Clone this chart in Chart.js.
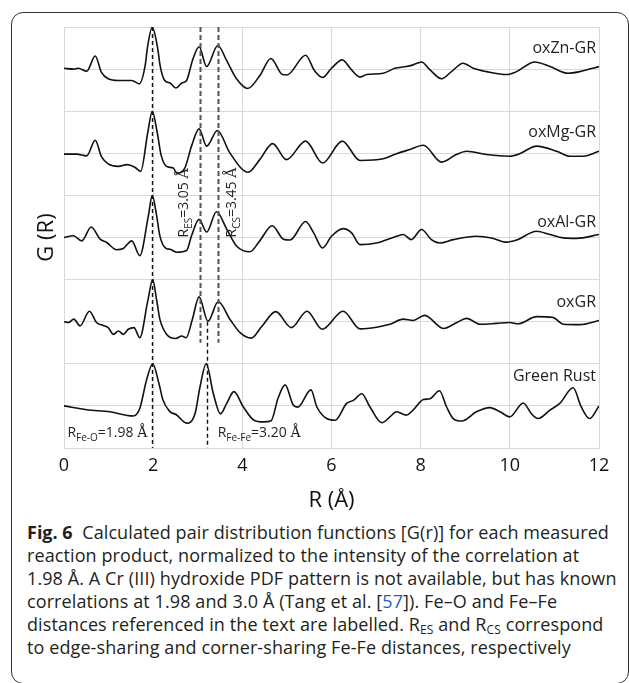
<!DOCTYPE html>
<html>
<head>
<meta charset="UTF-8">
<title>Pair distribution functions</title>
<script src="https://cdn.jsdelivr.net/npm/chart.js@4.4.4/dist/chart.umd.min.js"></script>
<style>
  html, body { margin: 0; padding: 0; background: #fff; }
  body { width: 629px; height: 683px; overflow: hidden; position: relative; font-family: "Open Sans", sans-serif; color: #231f20; }
  .frame { position: absolute; left: 11px; top: 12px; width: 618px; height: 672px; border: 1.5px solid #333; border-radius: 12px; box-sizing: border-box; }
  .plot { position: absolute; left: 0; top: 0; width: 629px; height: 520px; }
  .caption { position: absolute; left: 27px; top: 521px; font-size: 18px; line-height: 23px; white-space: nowrap; letter-spacing: 0.1px; }
  .caption b { letter-spacing: 0; }
  .caption .ref { color: #2a5cc8; }
  .caption sub { font-size: 12px; vertical-align: -3px; line-height: 0; }
</style>
</head>
<body>
<div class="frame"></div>
<div class="plot"><canvas id="pdf"></canvas></div>
<div class="caption">
  <b>Fig. 6</b>&nbsp; Calculated pair distribution functions [G(r)] for each measured<br>
  reaction product, normalized to the intensity of the correlation at<br>
  1.98 Å. A Cr (III) hydroxide PDF pattern is not available, but has known<br>
  correlations at 1.98 and 3.0 Å (Tang et al. [<span class="ref">57</span>]). Fe–O and Fe–Fe<br>
  distances referenced in the text are labelled. R<sub>ES</sub> and R<sub>CS</sub> correspond<br>
  to edge-sharing and corner-sharing Fe-Fe distances, respectively
</div>

<script>
  // —— series (R in Å, G normalized to the 1.98 Å peak) ——————————
  const names = ['oxZn-GR', 'oxMg-GR', 'oxAl-GR', 'oxGR', 'Green Rust'];

  const rZn = [0, 0.21, 0.32, 0.51, 0.70, 0.84, 0.99, 1.22, 1.52, 1.69, 1.82, 1.87, 1.98, 2.10, 2.16, 2.26, 2.38, 2.51, 2.64, 2.75, 2.88, 3.03, 3.20, 3.45, 3.65, 3.87, 4.12, 4.39, 4.64, 4.90, 5.00, 5.42, 5.62, 5.80, 6.00, 6.24, 6.45, 6.64, 6.79, 7.16, 7.42, 7.68, 7.83, 8.02, 8.21, 8.47, 8.69, 8.95, 9.18, 9.48, 9.93, 10.15, 10.56, 10.90, 11.31, 11.57, 12.0];
  const gZn = [0.02, 0, 0.02, -0.05, 0.31, -0.08, -0.23, -0.27, -0.27, -0.35, 0.08, 0.5, 1.0, 0.5, 0.06, -0.27, -0.33, -0.45, -0.33, -0.27, 0.20, 0.53, 0.06, 0.56, 0.20, -0.23, -0.46, -0.16, 0.25, -0.13, -0.14, 0.33, -0.04, -0.20, 0.02, 0.22, -0.02, -0.19, -0.13, -0.10, 0.02, 0.06, 0.10, 0.17, -0.02, -0.23, -0.06, 0.14, 0.02, -0.06, -0.13, -0.06, 0.17, 0.06, -0.10, -0.06, 0.06];

  const rMg = [0, 0.28, 0.51, 0.70, 0.84, 0.99, 1.22, 1.41, 1.59, 1.72, 1.88, 1.98, 2.09, 2.18, 2.30, 2.45, 2.53, 2.71, 2.86, 3.03, 3.20, 3.44, 3.72, 4.13, 4.39, 4.68, 4.99, 5.42, 5.80, 6.24, 6.64, 7.16, 7.46, 7.76, 8.06, 8.47, 8.80, 9.03, 9.48, 10.0, 10.22, 10.6, 11.05, 11.35, 11.65, 12.0];
  const gMg = [-0.02, -0.02, -0.06, 0.31, -0.08, -0.25, -0.31, -0.27, -0.33, -0.43, 0.5, 1.0, 0.5, -0.05, -0.31, -0.35, -0.47, -0.35, 0.17, 0.58, 0.17, 0.54, 0.01, -0.45, -0.15, 0.23, -0.15, 0.29, -0.23, 0.29, -0.17, -0.13, -0.01, 0.09, 0.19, -0.21, -0.03, 0.05, -0.03, -0.07, -0.01, 0.17, 0.05, -0.07, -0.07, 0.05];

  const rAl = [0, 0.21, 0.40, 0.61, 0.81, 0.96, 1.18, 1.33, 1.52, 1.70, 1.89, 1.98, 2.08, 2.15, 2.29, 2.38, 2.53, 2.75, 2.86, 3.03, 3.20, 3.42, 3.65, 3.87, 4.17, 4.39, 4.67, 4.92, 5.07, 5.42, 5.60, 5.80, 6.00, 6.26, 6.45, 6.64, 7.01, 7.46, 7.61, 7.79, 8.02, 8.24, 8.43, 8.73, 9.25, 9.59, 9.93, 10.15, 10.6, 10.9, 11.2, 11.5, 12.0];
  const gAl = [0, 0.04, -0.08, 0.25, -0.04, -0.12, -0.29, -0.26, -0.08, -0.43, 0.5, 1.0, 0.5, 0.04, -0.26, -0.28, -0.35, -0.31, 0.04, 0.43, 0.13, 0.61, 0.20, -0.20, -0.34, -0.08, 0.28, -0.04, -0.06, 0.38, 0.11, -0.25, 0.03, 0.21, 0.11, -0.17, -0.13, 0.03, 0.07, -0.05, 0.19, -0.05, -0.13, -0.05, 0.03, -0.01, -0.11, -0.06, 0.15, 0.07, -0.01, -0.02, 0.07];

  const rOx = [0, 0.10, 0.22, 0.36, 0.57, 0.73, 0.88, 0.99, 1.11, 1.22, 1.33, 1.44, 1.57, 1.70, 1.88, 1.99, 2.08, 2.15, 2.30, 2.51, 2.64, 2.74, 2.88, 3.03, 3.23, 3.46, 3.72, 3.95, 4.20, 4.43, 4.75, 5.10, 5.45, 5.79, 6.26, 6.64, 7.01, 7.31, 7.61, 7.83, 8.09, 8.51, 8.81, 9.03, 9.33, 9.70, 10.0, 10.19, 10.6, 10.97, 11.2, 11.57, 12.0];
  const gOx = [0, -0.02, 0.06, -0.10, 0.25, -0.02, -0.09, -0.14, -0.30, -0.22, -0.30, -0.18, -0.14, -0.38, 0.5, 1.0, 0.5, 0.06, -0.30, -0.40, -0.34, -0.38, 0.06, 0.59, 0.01, 0.48, 0.06, -0.26, -0.39, -0.12, 0.24, -0.14, 0.25, -0.18, 0.25, -0.17, -0.13, -0.06, 0.06, 0.03, 0.15, -0.16, -0.02, 0.08, -0.06, -0.04, -0.02, -0.05, 0.12, 0.10, -0.06, -0.07, 0.03];

  const rGR = [0, 0.51, 1.03, 1.55, 1.70, 1.85, 1.99, 2.13, 2.22, 2.37, 2.52, 2.75, 2.94, 3.05, 3.19, 3.35, 3.51, 3.65, 3.81, 4.02, 4.26, 4.47, 4.64, 4.81, 4.96, 5.14, 5.24, 5.54, 5.67, 5.89, 6.08, 6.34, 6.49, 6.68, 6.86, 7.13, 7.31, 7.46, 7.68, 7.83, 8.06, 8.21, 8.42, 8.58, 8.73, 8.92, 9.25, 9.55, 9.78, 10.0, 10.3, 10.48, 10.63, 10.9, 11.12, 11.42, 11.6, 11.79, 12.0];
  const gGR = [0, -0.09, -0.14, -0.24, -0.06, 0.61, 1.0, 0.53, 0.14, -0.13, -0.21, -0.41, -0.18, 0.45, 1.0, 0.29, -0.19, 0.06, 0.34, -0.02, -0.34, -0.38, -0.36, 0.21, 0.50, 0.02, -0.03, 0.38, -0.02, -0.30, -0.34, 0.06, 0.13, 0.29, -0.02, -0.40, -0.26, -0.14, -0.22, -0.10, 0.15, 0.17, 0.36, -0.02, -0.30, -0.36, -0.14, -0.04, -0.14, -0.26, 0.07, -0.18, -0.30, -0.10, 0.06, 0.43, -0.02, -0.30, 0.0];

  // vertical shift of each trace so they stack
  const traceShift = [8, 6, 4, 2, 0];

  // reference distances (Å) and the G-range each dashed line covers
  const refNames  = ['Fe-O', 'ES', 'CS', 'Fe-Fe'];
  const refR      = [1.98, 3.05, 3.45, 3.20];
  const refTop    = [9, 9, 9, 2];
  const refBottom = [-1, 1.5, 1.5, -1];

  const xTicks = [0, 2, 4, 6, 8, 10, 12];

  const rs = [rZn, rMg, rAl, rOx, rGR];
  const gs = [gZn, gMg, gAl, gOx, gGR];

  // —— text helper: runs of text with optional subscript ——————————
  const SANS = '"Open Sans", sans-serif';
  function richRuns(label, value, size) {
    return [
      { t: 'R', f: size + 'px ' + SANS, dy: 0 },
      { t: label, f: Math.round(size * 0.7) + 'px ' + SANS, dy: size * 0.28 },
      { t: '=' + value + ' ', f: size + 'px ' + SANS, dy: 0 },
      { t: 'Å', f: size + 'px "DejaVu Serif", serif', dy: 0 }
    ];
  }
  function runsWidth(ctx, runs) {
    return runs.reduce((w, r) => { ctx.font = r.f; return w + ctx.measureText(r.t).width; }, 0);
  }
  function drawRuns(ctx, runs, x, y) {
    ctx.textBaseline = 'alphabetic';
    ctx.textAlign = 'left';
    runs.forEach(r => {
      ctx.font = r.f;
      ctx.fillText(r.t, x, y + r.dy);
      x += ctx.measureText(r.t).width;
    });
  }

  const annotate = {
    id: 'annotate',
    afterDatasetsDraw(chart) {
      const { ctx, scales: { x, y } } = chart;
      ctx.save();

      // dashed reference lines
      refR.forEach((r, i) => {
        const shared = refNames[i] === 'ES' || refNames[i] === 'CS';
        const px = Math.round(x.getPixelForValue(r)) + 0.5;
        ctx.beginPath();
        ctx.setLineDash(shared ? [5, 3] : [4, 3]);
        ctx.strokeStyle = shared ? '#555' : '#111';
        ctx.lineWidth = shared ? 2 : 1.4;
        ctx.moveTo(px, y.getPixelForValue(refTop[i]));
        ctx.lineTo(px, y.getPixelForValue(refBottom[i]));
        ctx.stroke();
      });
      ctx.setLineDash([]);
      ctx.fillStyle = '#231f20';

      // Fe-O and Fe-Fe labels along the bottom
      const base = y.getPixelForValue(-0.74);
      const feO = richRuns('Fe-O', '1.98', 14);
      drawRuns(ctx, feO, x.getPixelForValue(1.98) - 5 - runsWidth(ctx, feO), base);
      const feFe = richRuns('Fe-Fe', '3.20', 14);
      drawRuns(ctx, feFe, x.getPixelForValue(3.20) + 11, base);

      // rotated edge-/corner-sharing labels
      const y0 = y.getPixelForValue(4);
      [['ES', '3.05', 3.05, -12], ['CS', '3.45', 3.45, 18]].forEach(([lab, val, r, dx]) => {
        ctx.save();
        ctx.translate(x.getPixelForValue(r) + dx, y0);
        ctx.rotate(-Math.PI / 2);
        drawRuns(ctx, richRuns(lab, val, 14), 0, 0);
        ctx.restore();
      });

      // trace names at the right edge
      const labelY = [8.5, 6.5, 4.35, 2.45, 0.7];
      ctx.font = '16px ' + SANS;
      ctx.textAlign = 'right';
      ctx.textBaseline = 'middle';
      names.forEach((n, i) => ctx.fillText(n, x.right - 3, y.getPixelForValue(labelY[i])));
      ctx.restore();
    }
  };

  new Chart(document.getElementById('pdf'), {
    type: 'line',
    data: {
      datasets: names.map((n, i) => ({
        label: n,
        data: rs[i].map((r, k) => ({ x: r, y: gs[i][k] + traceShift[i] })),
        borderColor: '#111',
        borderWidth: 1.6,
        pointRadius: 0,
        fill: false,
        cubicInterpolationMode: 'monotone'
      }))
    },
    options: {
      responsive: true,
      maintainAspectRatio: false,
      animation: false,
      layout: { padding: { left: 0, right: 30, top: 27, bottom: 0 } },
      plugins: { legend: { display: false }, tooltip: { enabled: false } },
      scales: {
        x: {
          type: 'linear',
          min: 0, max: 12,
          afterBuildTicks: s => { s.ticks = xTicks.map(v => ({ value: v })); },
          afterFit: s => { s.height = 72; },
          grid: { color: '#d9d9d9', drawTicks: false },
          border: { color: '#d9d9d9' },
          ticks: { color: '#111', padding: 7, font: { family: SANS, size: 18 } },
          title: { display: true, text: 'R (Å)', color: '#111', padding: { top: 0, bottom: 6 }, font: { family: SANS, size: 22 } }
        },
        y: {
          min: -1, max: 9,
          ticks: { display: false, stepSize: 1 },
          afterFit: s => { s.width = 64; },
          grid: { color: '#d9d9d9', drawTicks: false },
          border: { color: '#d9d9d9' },
          title: { display: true, text: 'G (R)', color: '#111', padding: { top: 34, bottom: 0 }, font: { family: SANS, size: 22 } }
        }
      }
    },
    plugins: [annotate]
  });
</script>
</body>
</html>
